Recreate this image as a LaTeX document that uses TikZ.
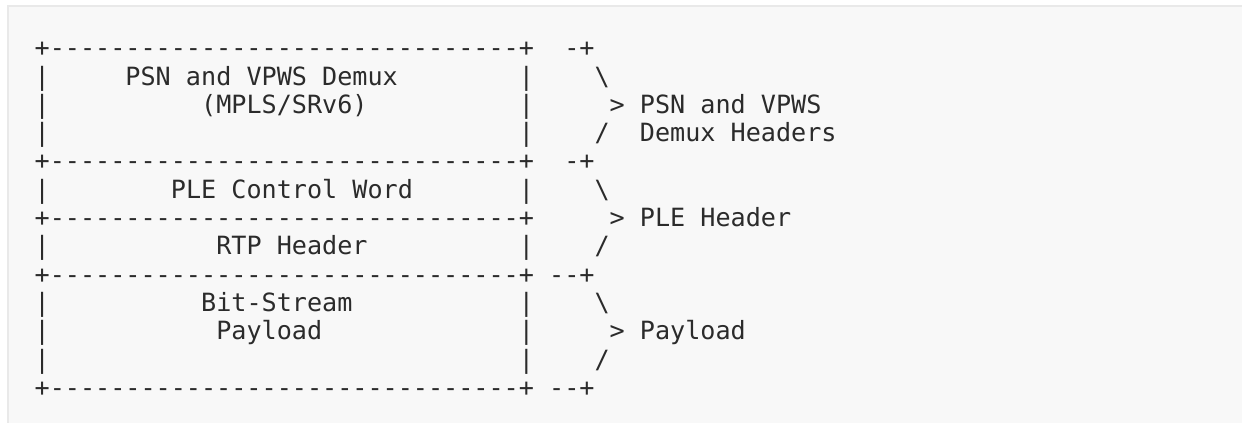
\documentclass[tikz,border=0pt]{standalone}
\usepackage{fontspec}
\setmonofont{DejaVu Sans Mono}
\definecolor{panel}{HTML}{F8F8F8}
\definecolor{panelrule}{HTML}{E9E9E9}
\definecolor{ink}{HTML}{2B2B2B}
\tikzset{
  txt/.style={anchor=base west, inner sep=0pt, outer sep=0pt, text=ink,
    font=\ttfamily\fontsize{25.13}{28.3}\selectfont},
}
% #1 name, #2 column, #3 row, #4 text
\newcommand\asc[4]{\node[txt] (#1) at ({34.7+#2*15.13},{56.7+#3*28.3}) {#4};}
\begin{document}
\begin{tikzpicture}[x=1pt,y=-1pt]
\useasboundingbox (0,0) rectangle (1242,423);
\fill[white] (0,0) rectangle (1242,423);
\fill[panel] (8,6) rectangle (1242,423);
\draw[panelrule, line width=2pt] (8,423) -- (8,6) -- (1242,6);
% row 0
\asc{r0a}{0}{0}{+-------------------------------+}
\asc{r0b}{35}{0}{-+}
% row 1
\asc{r1a}{0}{1}{|}
\asc{r1t}{6}{1}{PSN and VPWS Demux}
\asc{r1b}{32}{1}{|}
\asc{r1c}{37}{1}{\textbackslash}
% row 2
\asc{r2a}{0}{2}{|}
\asc{r2t}{11}{2}{(MPLS/SRv6)}
\asc{r2b}{32}{2}{|}
\asc{r2c}{38}{2}{> PSN and VPWS}
% row 3
\asc{r3a}{0}{3}{|}
\asc{r3b}{32}{3}{|}
\asc{r3c}{37}{3}{/}
\asc{r3d}{40}{3}{Demux Headers}
% row 4
\asc{r4a}{0}{4}{+-------------------------------+}
\asc{r4b}{35}{4}{-+}
% row 5
\asc{r5a}{0}{5}{|}
\asc{r5t}{9}{5}{PLE Control Word}
\asc{r5b}{32}{5}{|}
\asc{r5c}{37}{5}{\textbackslash}
% row 6
\asc{r6a}{0}{6}{+-------------------------------+}
\asc{r6c}{38}{6}{> PLE Header}
% row 7
\asc{r7a}{0}{7}{|}
\asc{r7t}{12}{7}{RTP Header}
\asc{r7b}{32}{7}{|}
\asc{r7c}{37}{7}{/}
% row 8
\asc{r8a}{0}{8}{+-------------------------------+}
\asc{r8b}{34}{8}{--+}
% row 9
\asc{r9a}{0}{9}{|}
\asc{r9t}{11}{9}{Bit-Stream}
\asc{r9b}{32}{9}{|}
\asc{r9c}{37}{9}{\textbackslash}
% row 10
\asc{r10a}{0}{10}{|}
\asc{r10t}{12}{10}{Payload}
\asc{r10b}{32}{10}{|}
\asc{r10c}{38}{10}{> Payload}
% row 11
\asc{r11a}{0}{11}{|}
\asc{r11b}{32}{11}{|}
\asc{r11c}{37}{11}{/}
% row 12
\asc{r12a}{0}{12}{+-------------------------------+}
\asc{r12b}{34}{12}{--+}
\end{tikzpicture}
\end{document}
